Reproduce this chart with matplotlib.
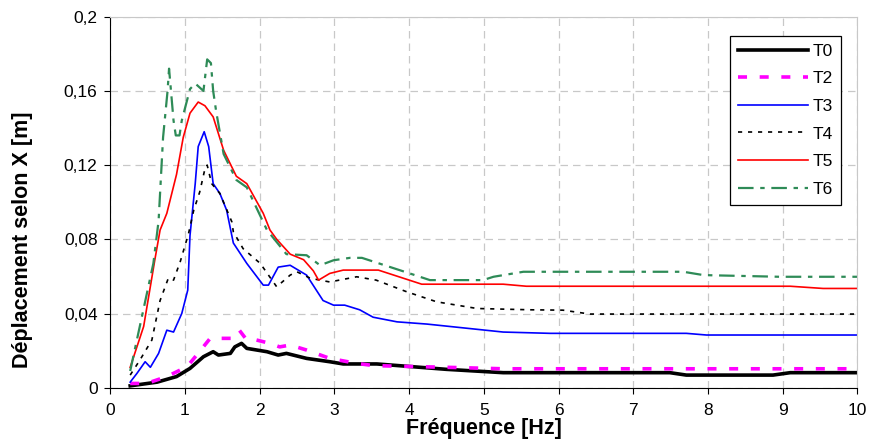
import matplotlib
matplotlib.use("Agg")
import matplotlib.pyplot as plt
from matplotlib.ticker import FuncFormatter

plt.rcParams['font.family'] = ['Liberation Sans', 'DejaVu Sans']

# frequencies [Hz] and displacements [m]
t0_x = [0.27, 0.63, 0.89, 1.07, 1.25, 1.38, 1.45, 1.61, 1.67, 1.76, 1.83, 2.10, 2.25, 2.36,
        2.63, 2.94, 3.12, 3.57, 4.5, 5.26, 7.49, 7.71, 8.87, 9.1, 10]
t0_y = [0.001, 0.003, 0.006, 0.0104, 0.0167, 0.0194, 0.0176, 0.0185, 0.022, 0.0239, 0.0212,
        0.0194, 0.0176, 0.0185, 0.0158, 0.014, 0.0128, 0.0128, 0.0099, 0.0081, 0.0081,
        0.0068, 0.0068, 0.0081, 0.0081]

t2_x = [0.27, 0.49, 0.76, 1.03, 1.16, 1.34, 1.52, 1.63, 1.73, 1.83, 1.96, 2.14, 2.27, 2.41,
        2.63, 2.94, 3.30, 3.53, 4.5, 5.26, 10]
t2_y = [0.0023, 0.0023, 0.006, 0.0113, 0.0176, 0.0266, 0.0266, 0.0266, 0.031, 0.0257, 0.0257,
        0.0239, 0.022, 0.023, 0.0203, 0.0158, 0.0131, 0.0119, 0.011, 0.0102, 0.0102]

t3_x = [0.27, 0.36, 0.47, 0.54, 0.65, 0.76, 0.85, 0.96, 1.04, 1.07, 1.14, 1.18, 1.26, 1.32,
        1.38, 1.47, 1.56, 1.65, 1.83, 2.05, 2.12, 2.25, 2.41, 2.63, 2.85, 2.99, 3.14, 3.34,
        3.52, 3.84, 4.24, 5.26, 5.89, 7.71, 7.98, 10]
t3_y = [0.003, 0.0077, 0.014, 0.011, 0.0185, 0.031, 0.030, 0.040, 0.0526, 0.082, 0.110, 0.130,
        0.138, 0.130, 0.110, 0.1047, 0.0957, 0.078, 0.067, 0.0553, 0.0553, 0.065, 0.066,
        0.0607, 0.047, 0.0445, 0.0445, 0.042, 0.038, 0.0355, 0.0343, 0.030, 0.0293, 0.0293,
        0.0284, 0.0284]

t4_x = [0.27, 0.40, 0.56, 0.67, 0.78, 0.85, 0.94, 1.05, 1.12, 1.20, 1.27, 1.30, 1.36, 1.47,
        1.63, 1.65, 1.78, 2.01, 2.23, 2.41, 2.50, 2.68, 2.94, 3.30, 3.56, 3.97, 4.37, 4.91,
        5.62, 6.06, 6.42, 10]
t4_y = [0.0068, 0.0149, 0.0257, 0.047, 0.059, 0.058, 0.068, 0.083, 0.0957, 0.1055, 0.118,
        0.120, 0.110, 0.1047, 0.0894, 0.084, 0.075, 0.067, 0.0544, 0.0607, 0.0625, 0.059,
        0.057, 0.0598, 0.058, 0.0517, 0.0463, 0.0427, 0.042, 0.0418, 0.0397, 0.0397]

t5_x = [0.27, 0.45, 0.60, 0.67, 0.76, 0.89, 0.98, 1.07, 1.18, 1.27, 1.38, 1.52, 1.69, 1.83,
        2.05, 2.14, 2.23, 2.41, 2.59, 2.72, 2.79, 2.94, 3.12, 3.59, 4.17, 5.26, 5.57, 9.1,
        9.54, 10]
t5_y = [0.011, 0.033, 0.069, 0.085, 0.094, 0.115, 0.135, 0.148, 0.154, 0.152, 0.146, 0.128,
        0.114, 0.110, 0.094, 0.085, 0.080, 0.072, 0.069, 0.063, 0.058, 0.0616, 0.0634, 0.0634,
        0.0558, 0.0558, 0.0547, 0.0547, 0.0535, 0.0535]

t6_x = [0.27, 0.58, 0.65, 0.71, 0.77, 0.79, 0.85, 0.88, 0.93, 0.96, 1.07, 1.14, 1.25, 1.30,
        1.35, 1.38, 1.42, 1.52, 1.69, 1.83, 2.10, 2.36, 2.63, 2.81, 2.99, 3.21, 3.37, 4.01,
        4.28, 4.99, 5.13, 5.53, 7.67, 7.94, 8.96, 10]
t6_y = [0.009, 0.067, 0.090, 0.135, 0.160, 0.172, 0.144, 0.136, 0.136, 0.144, 0.161, 0.164,
        0.160, 0.177, 0.175, 0.160, 0.149, 0.126, 0.112, 0.108, 0.085, 0.072, 0.0714, 0.066,
        0.0687, 0.070, 0.070, 0.0616, 0.058, 0.058, 0.0598, 0.0625, 0.0625, 0.0607, 0.0598,
        0.0598]

fig = plt.figure(figsize=(8.71, 4.48), dpi=100)
ax = fig.add_axes([0.1263, 0.1346, 0.8582, 0.8281])

ax.plot(t0_x, t0_y, color='black', lw=2.6, label='T0')
ax.plot(t2_x, t2_y, color='#ff00ff', lw=2.6, ls=(0, (2.5, 3.5)), label='T2')
ax.plot(t3_x, t3_y, color='#0000ff', lw=1.2, label='T3')
ax.plot(t4_x, t4_y, color='black', lw=1.2, ls=(0, (2.5, 3.5)), label='T4')
ax.plot(t5_x, t5_y, color='#ff0000', lw=1.2, label='T5')
ax.plot(t6_x, t6_y, color='#2e8b57', lw=1.6, ls=(0, (7, 3, 2, 3)), label='T6')

ax.set_xlim(0, 10)
ax.set_ylim(0, 0.2)
ax.set_xticks(range(0, 11))
ax.set_yticks([0, 0.04, 0.08, 0.12, 0.16, 0.2])
ax.yaxis.set_major_formatter(FuncFormatter(lambda v, p: ('%g' % round(v, 3)).replace('.', ',')))
ax.tick_params(direction='out', length=4, width=0.8, labelsize=12.5, colors='black')
ax.tick_params(axis='x', pad=7)
ax.tick_params(axis='y', pad=5)

ax.grid(True, color='#c8c8c8', ls=(0, (6, 4)), lw=0.9)
ax.set_axisbelow(True)
for side in ['top', 'right']:
    ax.spines[side].set_color('#c8c8c8')
ax.spines['left'].set_color('black')
ax.spines['bottom'].set_color('black')

ax.set_xlabel('Fréquence [Hz]', fontsize=15.5, fontweight='bold', labelpad=0)
ax.set_ylabel('Déplacement selon X [m]', fontsize=15.5, fontweight='bold')
ax.yaxis.set_label_coords(-0.103, 0.40)

leg = ax.legend(loc='upper left', bbox_to_anchor=(0.830, 0.949), fontsize=12.5,
                handlelength=4.0, labelspacing=0.72, handletextpad=0.3,
                borderpad=0.45, borderaxespad=0, fancybox=False, framealpha=1,
                edgecolor='black')
leg.get_frame().set_linewidth(0.9)

fig.savefig('out.png', dpi=100)
